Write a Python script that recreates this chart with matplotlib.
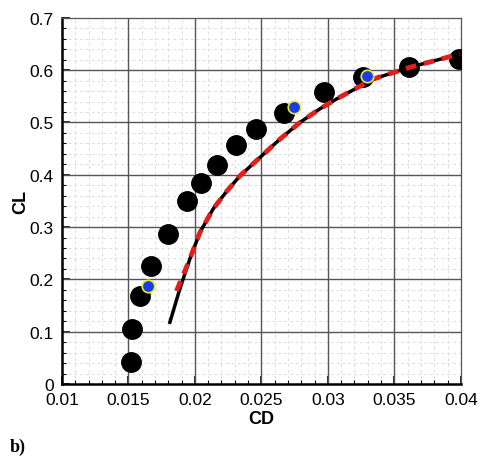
import numpy as np
import matplotlib.pyplot as plt
import matplotlib.transforms as mtransforms
from matplotlib.ticker import MultipleLocator, AutoMinorLocator

# experimental points (black dots)
cd_exp = [0.01516, 0.01528, 0.01586, 0.01668, 0.01798, 0.01944, 0.02044, 0.02166,
          0.02311, 0.02462, 0.02668, 0.02974, 0.03262, 0.03613, 0.03983]
cl_exp = [0.043, 0.105, 0.169, 0.226, 0.287, 0.349, 0.384, 0.419,
          0.456, 0.488, 0.519, 0.558, 0.586, 0.607, 0.621]

# computed points (blue)
cd_calc = [0.01646, 0.02742, 0.03295]
cl_calc = [0.187, 0.530, 0.588]

# polar curve (black solid)
cd_line = [0.01812, 0.01887, 0.01962, 0.02038, 0.02138, 0.02238, 0.02339, 0.02489,
           0.02639, 0.0279, 0.0294, 0.03066, 0.03341, 0.03617, 0.03993]
cl_line = [0.118, 0.182, 0.239, 0.290, 0.335, 0.368, 0.398, 0.433,
           0.468, 0.500, 0.526, 0.545, 0.583, 0.6055, 0.631]

# red dashed curve (starts a bit higher)
cd_dash = [0.01862] + cd_line[2:]
cl_dash = [0.178] + cl_line[2:]

plt.rcParams['font.family'] = ['Liberation Sans', 'DejaVu Sans']

fig = plt.figure(figsize=(4.8, 4.6), dpi=100)
ax = fig.add_axes([0.129, 0.163, 0.831, 0.796])

ax.plot(cd_exp, cl_exp, 'o', color='black', markersize=14, zorder=3)
ax.plot(cd_line, cl_line, '-', color='black', linewidth=2.5, zorder=4)
ax.plot(cd_dash, cl_dash, '--', color='#e0201c', linewidth=3.5, dashes=(2.2, 1.6), zorder=5)
ax.plot(cd_calc, cl_calc, 'o', color='#1a3cf0', markeredgecolor='#e8e83a',
        markeredgewidth=1.2, markersize=9, zorder=6)

ax.set_xlim(0.01, 0.04)
ax.set_ylim(0, 0.7)
ax.xaxis.set_major_locator(MultipleLocator(0.005))
ax.xaxis.set_minor_locator(AutoMinorLocator(5))
ax.yaxis.set_major_locator(MultipleLocator(0.1))
ax.yaxis.set_minor_locator(AutoMinorLocator(5))
ax.xaxis.set_major_formatter(plt.FuncFormatter(lambda v, p: '%g' % round(v, 4)))
ax.yaxis.set_major_formatter(plt.FuncFormatter(lambda v, p: '%g' % round(v, 2)))

# faint dashed minor grid, solid major grid drawn above it
ax.grid(which='minor', color='#dddddd', linewidth=0.7, linestyle=(0, (3, 3)))
ax.set_axisbelow(True)
for xv in ax.get_xticks():
    if 0.01 < xv < 0.04:
        ax.axvline(xv, color='#555555', linewidth=1.0, zorder=0.9)
for yv in ax.get_yticks():
    if 0 < yv < 0.7:
        ax.axhline(yv, color='#555555', linewidth=1.0, zorder=0.9)

ax.tick_params(which='both', direction='in', labelsize=12.5, top=False, right=False)
ax.tick_params(axis='x', which='major', pad=6)
ax.tick_params(axis='y', which='major', pad=6)
ax.tick_params(which='major', length=6, width=1.2)
ax.tick_params(which='minor', length=3, width=0.8)
for s in ['left', 'bottom']:
    ax.spines[s].set_linewidth(1.8)
for s in ['top', 'right']:
    ax.spines[s].set_color('#555555')
    ax.spines[s].set_linewidth(0.9)

ax.set_xlabel('CD', fontsize=13, fontweight='bold', labelpad=2)
ax.set_ylabel('CL', fontsize=13, fontweight='bold', labelpad=0)

# lift the "0" label on the y axis a little, as in the original
fig.canvas.draw()
ylab0 = ax.get_yticklabels()[0]
ylab0.set_transform(ylab0.get_transform() + mtransforms.ScaledTranslation(0, 3 / 72, fig.dpi_scale_trans))

fig.text(0.02, 0.018, 'b)', fontsize=13, fontweight='bold', family='Liberation Serif')

fig.savefig('out.png', dpi=100)
